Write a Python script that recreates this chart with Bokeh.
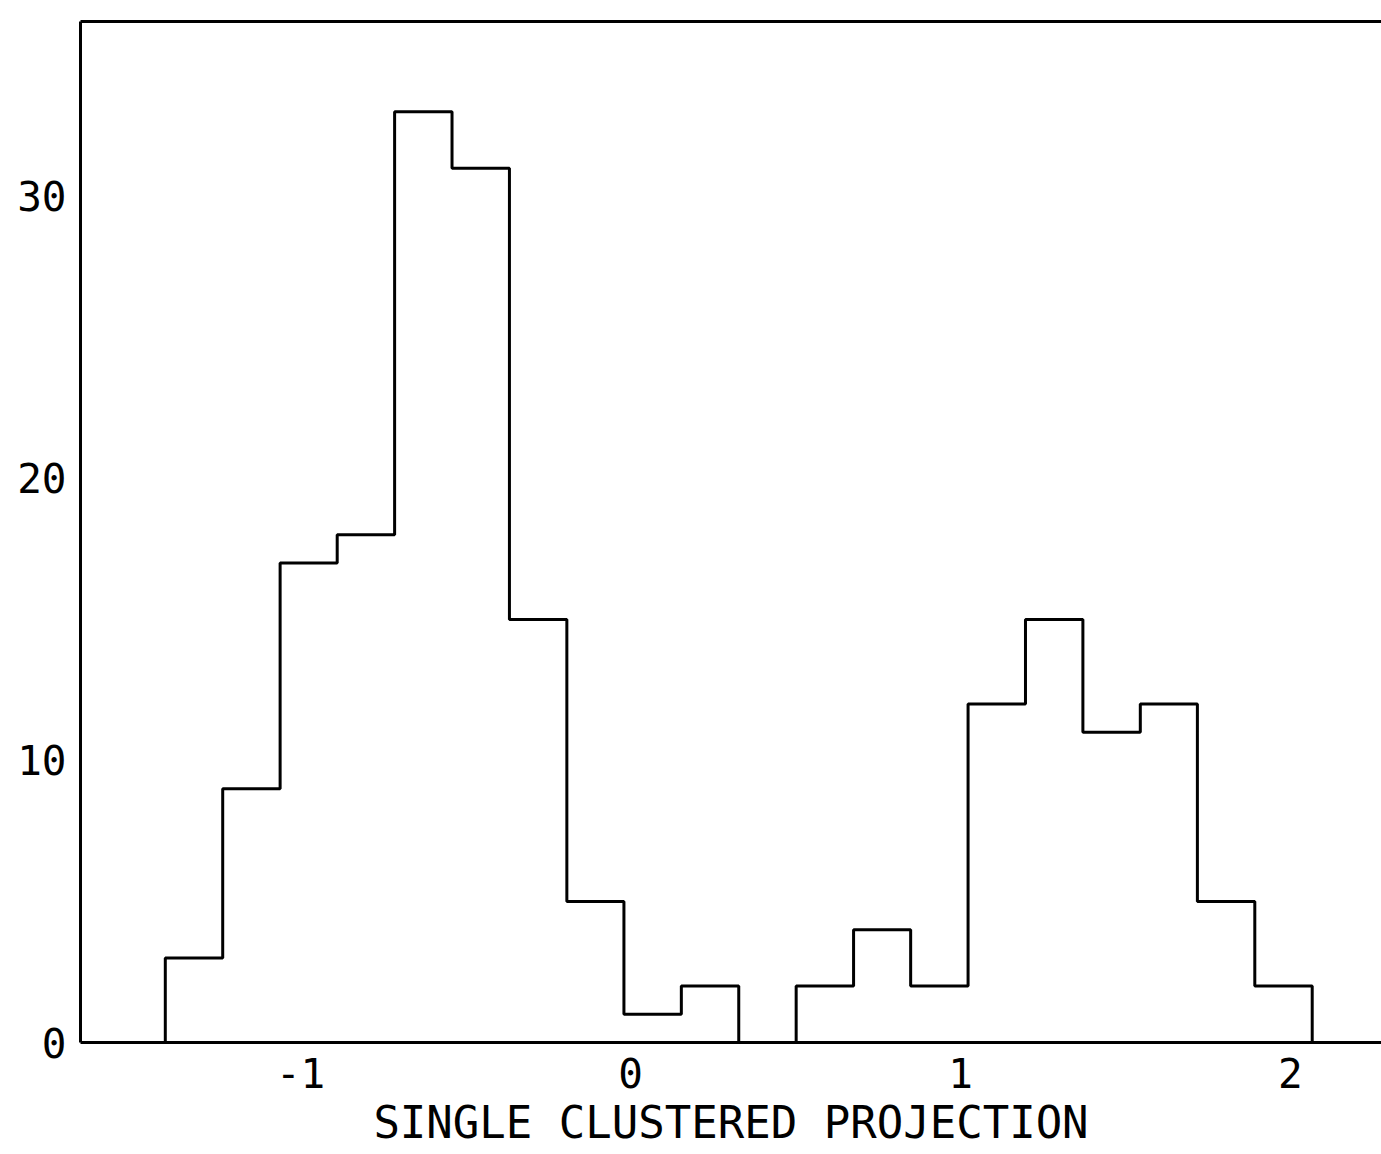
from bokeh.plotting import figure
from bokeh.models import LinearAxis, FixedTicker, Range1d
from bokeh.embed import file_html
from bokeh.resources import INLINE

# Histogram of the single clustered projection
bin_edges = [-1.410, -1.236, -1.062, -0.889, -0.715, -0.541, -0.367, -0.193,
             -0.020, 0.154, 0.328, 0.502, 0.676, 0.849, 1.023, 1.197, 1.371,
             1.545, 1.718, 1.892, 2.066]
counts = [3, 9, 17, 18, 33, 31, 15, 5, 1, 2, 0, 2, 4, 2, 12, 15, 11, 12, 5, 2]

x_ticks = [-1, 0, 1, 2]
y_ticks = [0, 10, 20, 30]
x_label = "SINGLE CLUSTERED PROJECTION"

FONT = "DejaVu Sans Mono"

# step outline built from the bin edges and counts
xs, ys = [bin_edges[0]], [0]
for i, c in enumerate(counts):
    xs += [bin_edges[i], bin_edges[i + 1]]
    ys += [c, c]
xs.append(bin_edges[-1])
ys.append(0)

p = figure(frame_width=1301, frame_height=1021,
           x_range=Range1d(-1.667, 2.276), y_range=Range1d(0, 36.2),
           output_backend="svg", toolbar_location=None,
           min_border_left=80, min_border_right=0, min_border_top=21,
           min_border_bottom=110, x_axis_location=None, y_axis_location=None)
p.background_fill_color = "white"
p.border_fill_color = "white"
p.outline_line_color = None
p.xgrid.visible = False
p.ygrid.visible = False

p.line(xs, ys, line_color="black", line_width=3)

def style(ax):
    ax.axis_line_color = "black"
    ax.axis_line_width = 3
    ax.major_tick_in = 0
    ax.major_tick_out = 0
    ax.minor_tick_in = 0
    ax.minor_tick_out = 0
    ax.major_label_text_font = FONT
    ax.major_label_text_color = "black"
    ax.major_label_text_font_size = "41px"

xaxis = LinearAxis(ticker=FixedTicker(ticks=x_ticks),
                   major_label_overrides={t: str(t) for t in x_ticks})
style(xaxis)
xaxis.major_label_standoff = 15
xaxis.axis_label = x_label
xaxis.axis_label_text_font = FONT
xaxis.axis_label_text_font_style = "normal"
xaxis.axis_label_text_font_size = "44px"
xaxis.axis_label_text_color = "black"
xaxis.axis_label_standoff = 6
p.add_layout(xaxis, "below")

yaxis = LinearAxis(ticker=FixedTicker(ticks=y_ticks))
style(yaxis)
yaxis.major_label_standoff = 14
p.add_layout(yaxis, "left")

top = LinearAxis(ticker=FixedTicker(ticks=[]))
style(top)
top.major_label_text_font_size = "0px"
top.major_label_standoff = 0
p.add_layout(top, "above")

open("out.html", "w").write(file_html(p, INLINE))
